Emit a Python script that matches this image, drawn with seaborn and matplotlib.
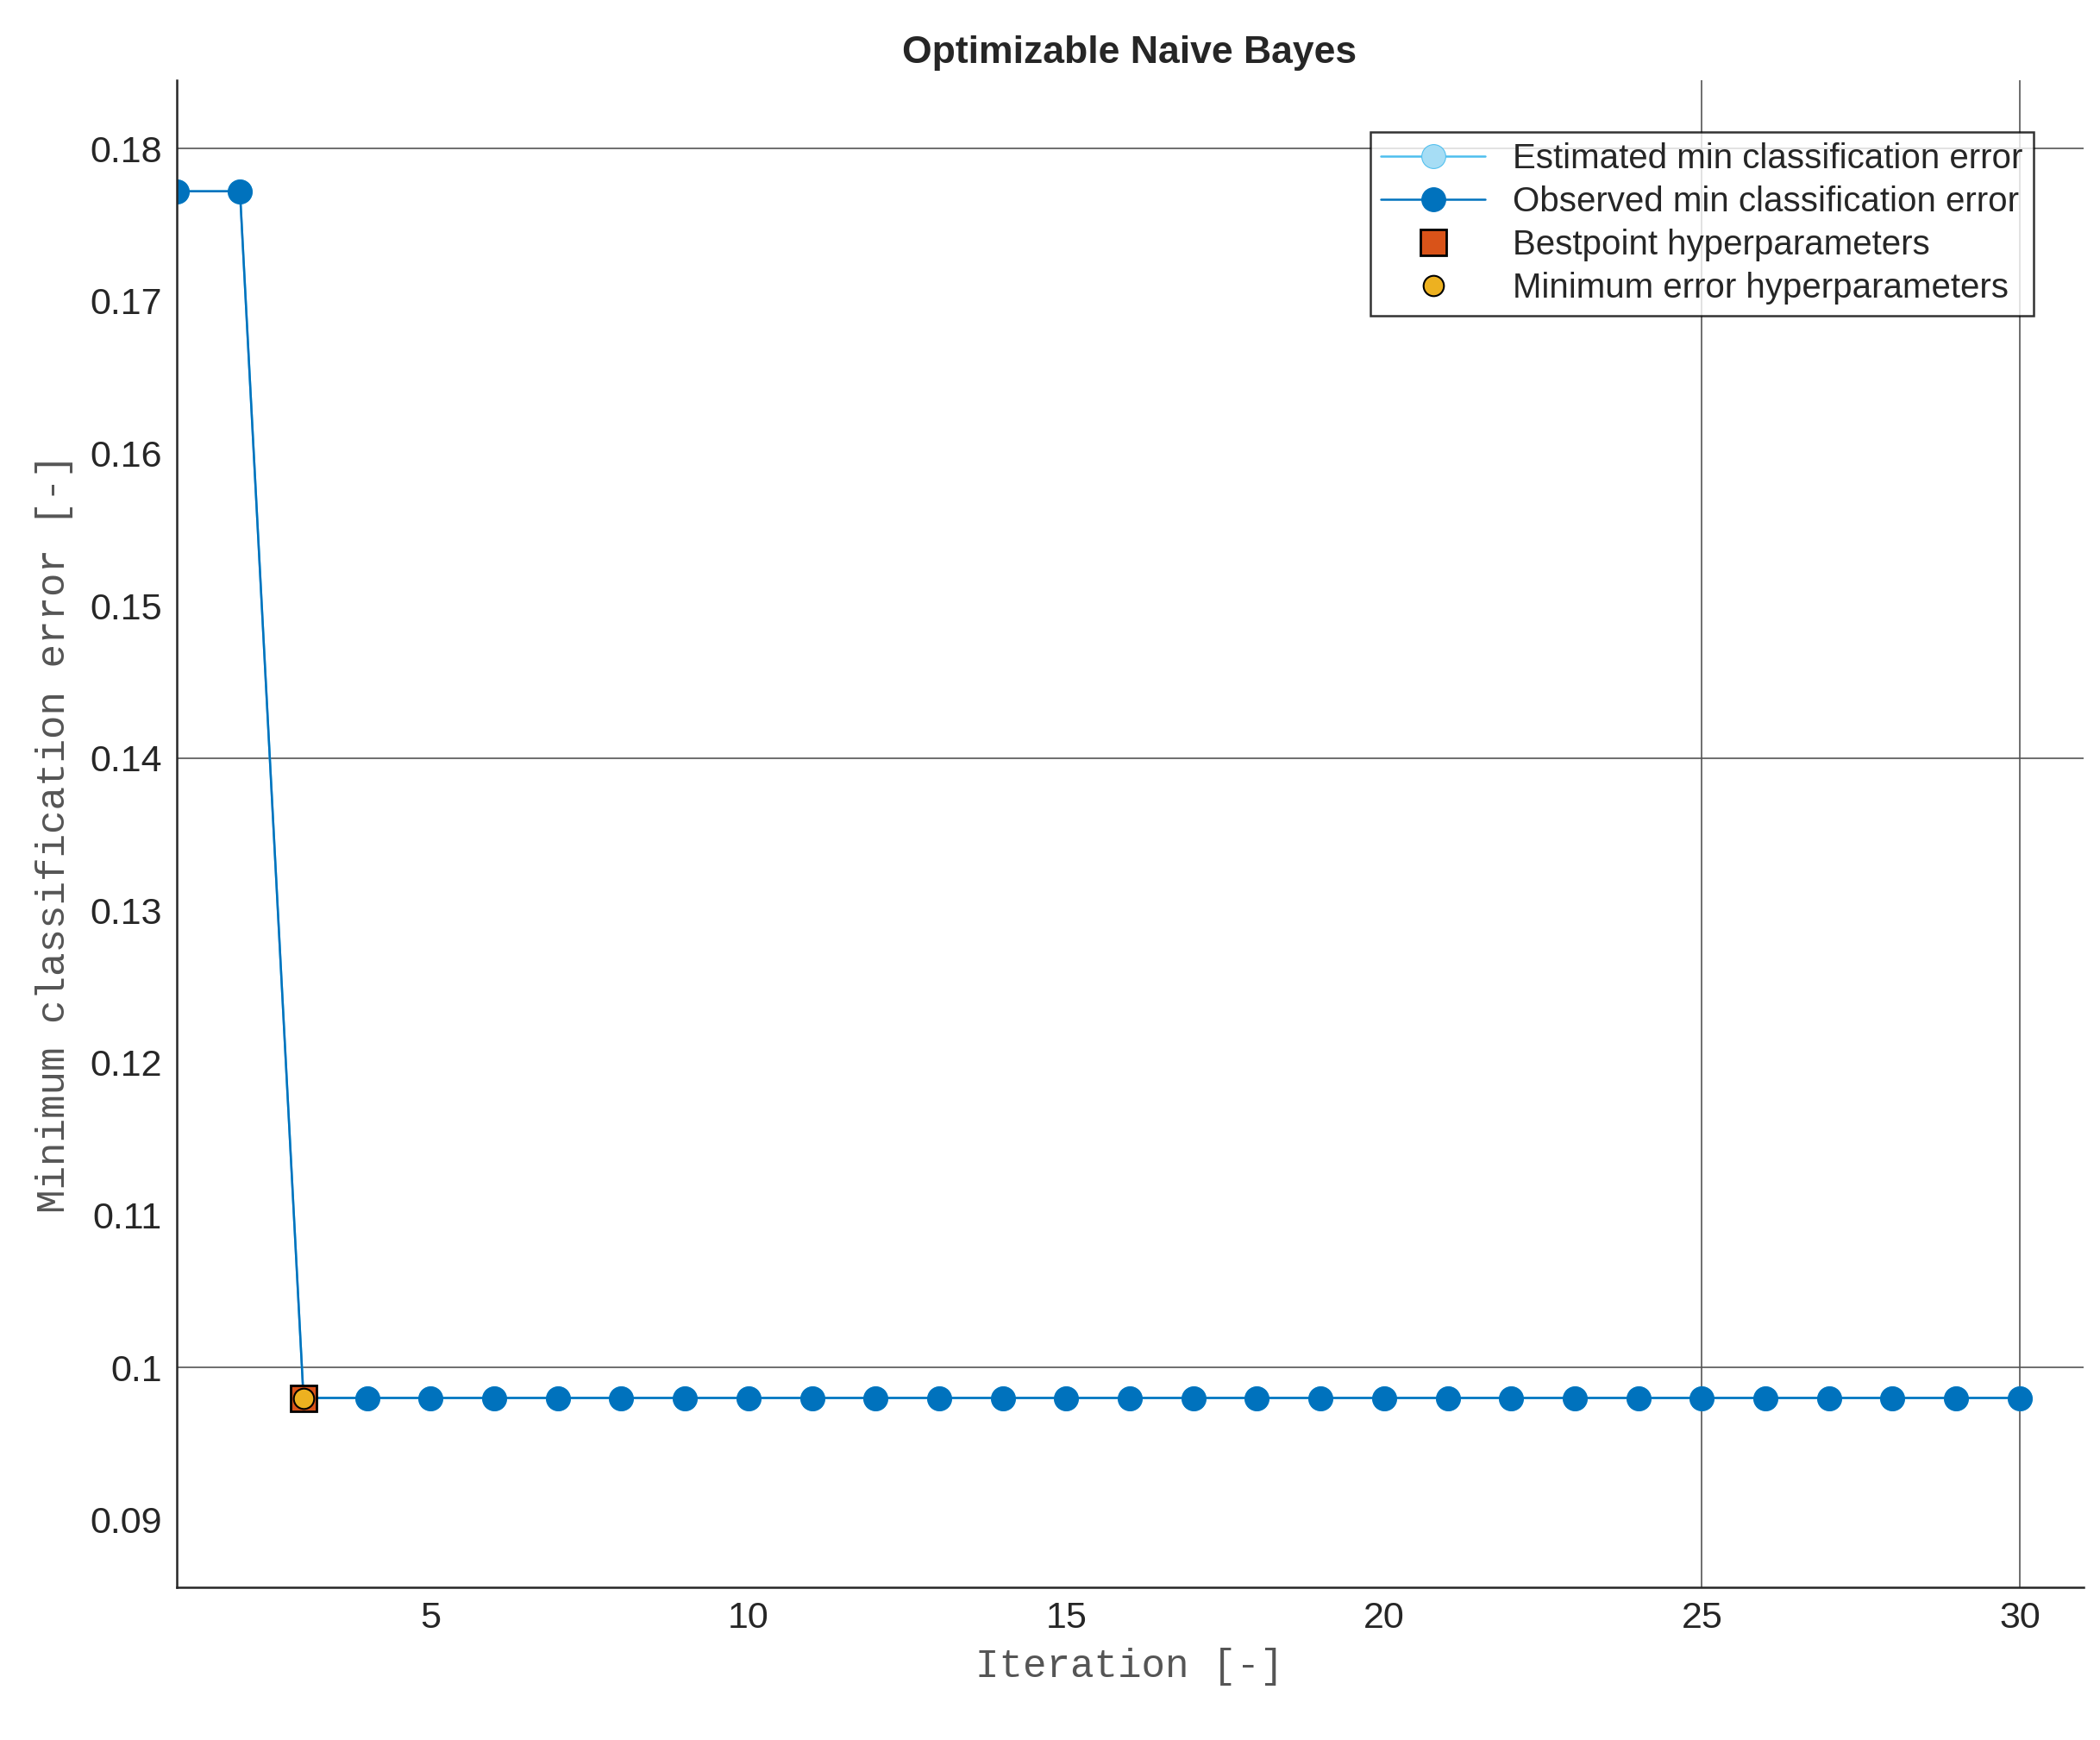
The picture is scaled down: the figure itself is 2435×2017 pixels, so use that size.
import numpy as np
import pandas as pd
import matplotlib
matplotlib.use("Agg")
import matplotlib.pyplot as plt
import seaborn as sns

iterations = list(range(1, 31))
observed_min = [0.1772, 0.1772] + [0.0980] * 28
estimated_min = [0.1772, 0.1772] + [0.0980] * 28
best_iter = [3]
best_err = [0.0980]

sns.set_style("white")
plt.rcParams['font.family'] = ['Liberation Sans', 'DejaVu Sans']

df = pd.DataFrame({"iter": iterations, "obs": observed_min, "est": estimated_min})

fig = plt.figure(figsize=(24.35, 20.17), dpi=100)
ax = fig.add_axes([0.084, 0.088, 0.908, 0.866])

blue = "#0072BD"
sns.lineplot(data=df, x="iter", y="est", ax=ax, color="#4DBEEE", lw=1.8,
             marker="o", markersize=20, markerfacecolor="#A6DDF5", markeredgecolor="#4DBEEE",
             label="Estimated min classification error")
sns.lineplot(data=df, x="iter", y="obs", ax=ax, color=blue, lw=1.8,
             marker="o", markersize=20, markerfacecolor=blue, markeredgecolor=blue,
             label="Observed min classification error")
ax.plot(best_iter, best_err, ls="none", marker="s", markersize=22,
        markerfacecolor="#D95319", markeredgecolor="black", markeredgewidth=2,
        label="Bestpoint hyperparameters")
ax.plot(best_iter, best_err, ls="none", marker="o", markersize=17,
        markerfacecolor="#EDB120", markeredgecolor="black", markeredgewidth=1.5,
        label="Minimum error hyperparameters")

ax.set_xlim(1, 31)
ax.set_ylim(0.0856, 0.1845)
ax.set_xticks([5, 10, 15, 20, 25, 30])
ax.set_yticks([0.09, 0.10, 0.11, 0.12, 0.13, 0.14, 0.15, 0.16, 0.17, 0.18])
ax.set_yticklabels(["0.09", "0.1", "0.11", "0.12", "0.13", "0.14", "0.15", "0.16", "0.17", "0.18"])
ax.tick_params(labelsize=31, direction="in", length=10, width=1.5, colors="#262626", pad=12)

# the visible grid lines in the reference
for y in [0.10, 0.14, 0.18]:
    ax.axhline(y, color="#555555", lw=1.2, zorder=0)
for x in [25, 30]:
    ax.axvline(x, color="#555555", lw=1.2, zorder=0)

for s in ["top", "right"]:
    ax.spines[s].set_visible(False)
for s in ["left", "bottom"]:
    ax.spines[s].set_linewidth(1.8)
    ax.spines[s].set_color("#262626")

ax.set_xlabel("Iteration [-]", fontsize=33, family="Liberation Mono", color="#555555", labelpad=10)
ax.set_ylabel("Minimum classification error [-]", fontsize=33, family="Liberation Mono",
              color="#555555", labelpad=14)
ax.set_title("Optimizable Naive Bayes", fontsize=32, fontweight="bold", pad=14)

leg = ax.legend(loc="upper right", bbox_to_anchor=(0.983, 0.977), fontsize=29,
                frameon=True, fancybox=False, edgecolor="black", handlelength=3.0,
                borderpad=0.3, labelspacing=0.3, handletextpad=0.8)
leg.get_frame().set_linewidth(1.8)

fig.savefig("out.png", dpi=100, facecolor="white")
